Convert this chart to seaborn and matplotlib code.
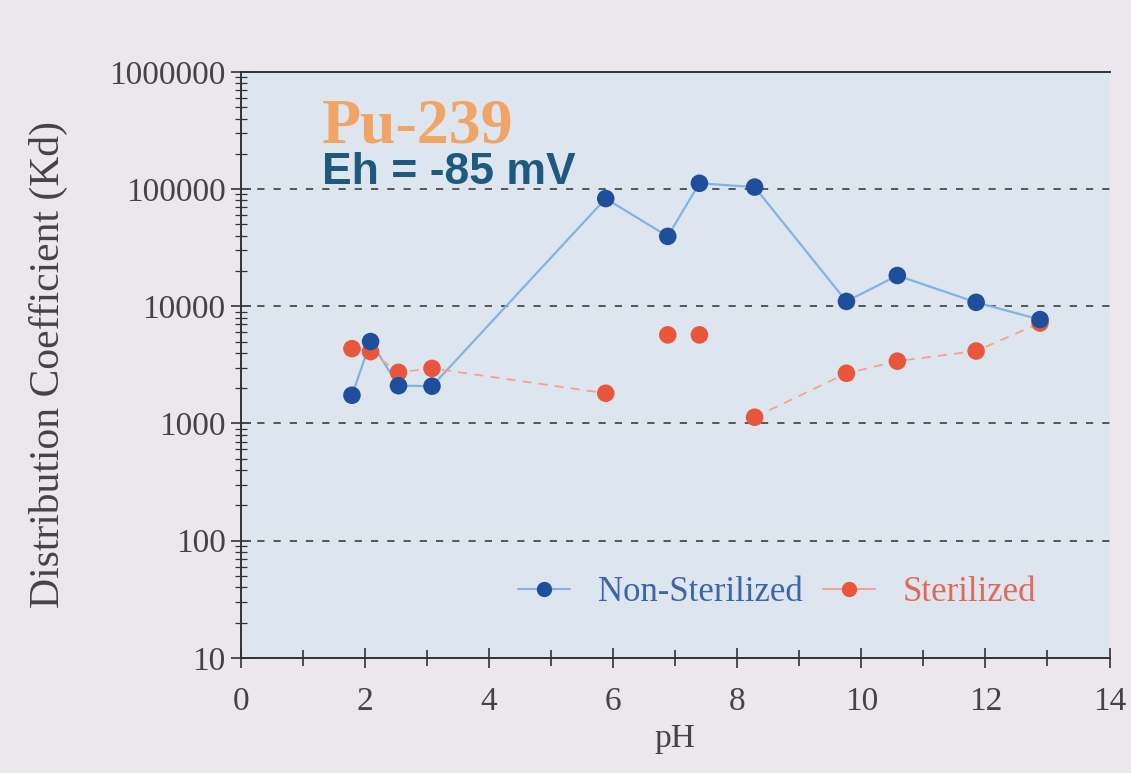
import numpy as np
import pandas as pd
import seaborn as sns
import matplotlib.pyplot as plt
from matplotlib.ticker import LogLocator, NullFormatter, FixedLocator

# values
ph_nonster = [1.79, 2.09, 2.54, 3.08, 5.88, 6.88, 7.39, 8.28, 9.76, 10.58, 11.85, 12.88]
kd_nonster = [1740, 5000, 2100, 2080, 83000, 39500, 112000, 104000, 11000, 18300, 10800, 7700]

ph_ster = [1.79, 2.09, 2.54, 3.08, 5.88, 6.88, 7.39, 8.28, 9.76, 10.58, 11.85, 12.88]
kd_ster = [4350, 4100, 2730, 2950, 1810, 5700, 5700, 1130, 2680, 3400, 4150, 7200]
# dashed line runs only through these groups in the original
seg_ster = [0, 0, 0, 0, 0, 1, 2, 3, 3, 3, 3, 3]

y_ticks = [10, 100, 1000, 10000, 100000, 1000000]
x_ticks = [0, 2, 4, 6, 8, 10, 12, 14]

BLUE = '#1f4f9c'
BLUE_LINE = '#82b3e2'
RED = '#e8573c'
RED_LINE = '#f2a394'
BG = '#dde6ee'
FIG_BG = '#ebe7ec'

sns.set_style('white')
plt.rcParams['font.family'] = ['Liberation Serif', 'DejaVu Serif']


def main():
    df_n = pd.DataFrame({'pH': ph_nonster, 'Kd': kd_nonster})
    df_s = pd.DataFrame({'pH': ph_ster, 'Kd': kd_ster, 'seg': seg_ster})

    fig = plt.figure(figsize=(11.31, 7.73), dpi=100, facecolor=FIG_BG)
    ax = fig.add_axes([0.213, 0.149, 0.768, 0.758])
    ax.set_facecolor(BG)

    sns.lineplot(x='pH', y='Kd', data=df_n, ax=ax, color=BLUE_LINE, lw=1.6,
                 estimator=None, sort=False, zorder=2)
    sns.lineplot(x='pH', y='Kd', data=df_s, units='seg', ax=ax, color=RED_LINE,
                 lw=1.3, estimator=None, sort=False, dashes=False,
                 linestyle=(0, (5, 4)), zorder=2)
    sns.scatterplot(x='pH', y='Kd', data=df_s, ax=ax, color=RED, s=160,
                    edgecolor='none', zorder=3)
    sns.scatterplot(x='pH', y='Kd', data=df_n, ax=ax, color=BLUE, s=160,
                    edgecolor='none', zorder=4)

    ax.set_yscale('log')
    ax.set_xlim(0, 14)
    ax.set_ylim(10, 1000000)

    for v in y_ticks[1:-1]:
        ax.axhline(v, color='#4a4a4a', ls=(0, (4, 5)), lw=1.3, zorder=1)

    ax.xaxis.set_major_locator(FixedLocator(x_ticks))
    ax.xaxis.set_minor_locator(FixedLocator(range(1, 14, 2)))
    ax.yaxis.set_major_locator(FixedLocator(y_ticks))
    ax.yaxis.set_minor_locator(LogLocator(base=10, subs=np.arange(2, 10)))
    ax.yaxis.set_minor_formatter(NullFormatter())
    ax.set_yticklabels([str(v) for v in y_ticks])
    ax.set_xticklabels([str(v) for v in x_ticks])

    ax.tick_params(left=True, bottom=True, which='both')
    ax.tick_params(axis='both', which='major', direction='inout', length=14,
                   width=1.2, color='#333333', labelsize=24, labelcolor='#444444')
    ax.tick_params(axis='y', which='minor', direction='inout', length=8,
                   width=0.9, color='#333333')
    ax.tick_params(axis='x', which='minor', direction='inout', length=12,
                   width=1.2, color='#333333')
    ax.tick_params(axis='x', which='major', pad=14)
    ax.tick_params(axis='y', which='major', pad=4)

    for side in ['left', 'bottom', 'top']:
        ax.spines[side].set_color('#333333')
        ax.spines[side].set_linewidth(1.4)
    ax.spines['right'].set_visible(False)

    ax.set_xlabel('pH', fontsize=24, color='#444444', labelpad=4)
    ax.set_ylabel('Distribution Coefficient (Kd)', fontsize=30, color='#444444',
                  labelpad=30)

    ax.text(0.093, 0.88, 'Pu-239', transform=ax.transAxes, fontsize=46,
            fontweight='bold', color='#f0a465', va='baseline')
    ax.text(0.093, 0.808, 'Eh = -85 mV', transform=ax.transAxes, fontsize=32,
            fontweight='bold', color='#1d5a7e', family=['Liberation Sans'],
            va='baseline')

    h_n = plt.Line2D([], [], color=BLUE_LINE, marker='o', mfc=BLUE, mec=BLUE,
                     ms=10, lw=1.5)
    h_s = plt.Line2D([], [], color=RED_LINE, marker='o', mfc=RED, mec=RED,
                     ms=10, lw=1.5)
    leg = ax.legend([h_n, h_s], ['Non-Sterilized', 'Sterilized'], loc='lower right',
                    bbox_to_anchor=(0.952, 0.03), ncol=2, frameon=False,
                    fontsize=25, handlelength=1.5, columnspacing=0.6,
                    handletextpad=0.8)
    leg.get_texts()[0].set_color('#3d66a8')
    leg.get_texts()[1].set_color('#e06a5a')

    fig.savefig('out.png', dpi=100, facecolor=FIG_BG)


if __name__ == '__main__':
    main()
